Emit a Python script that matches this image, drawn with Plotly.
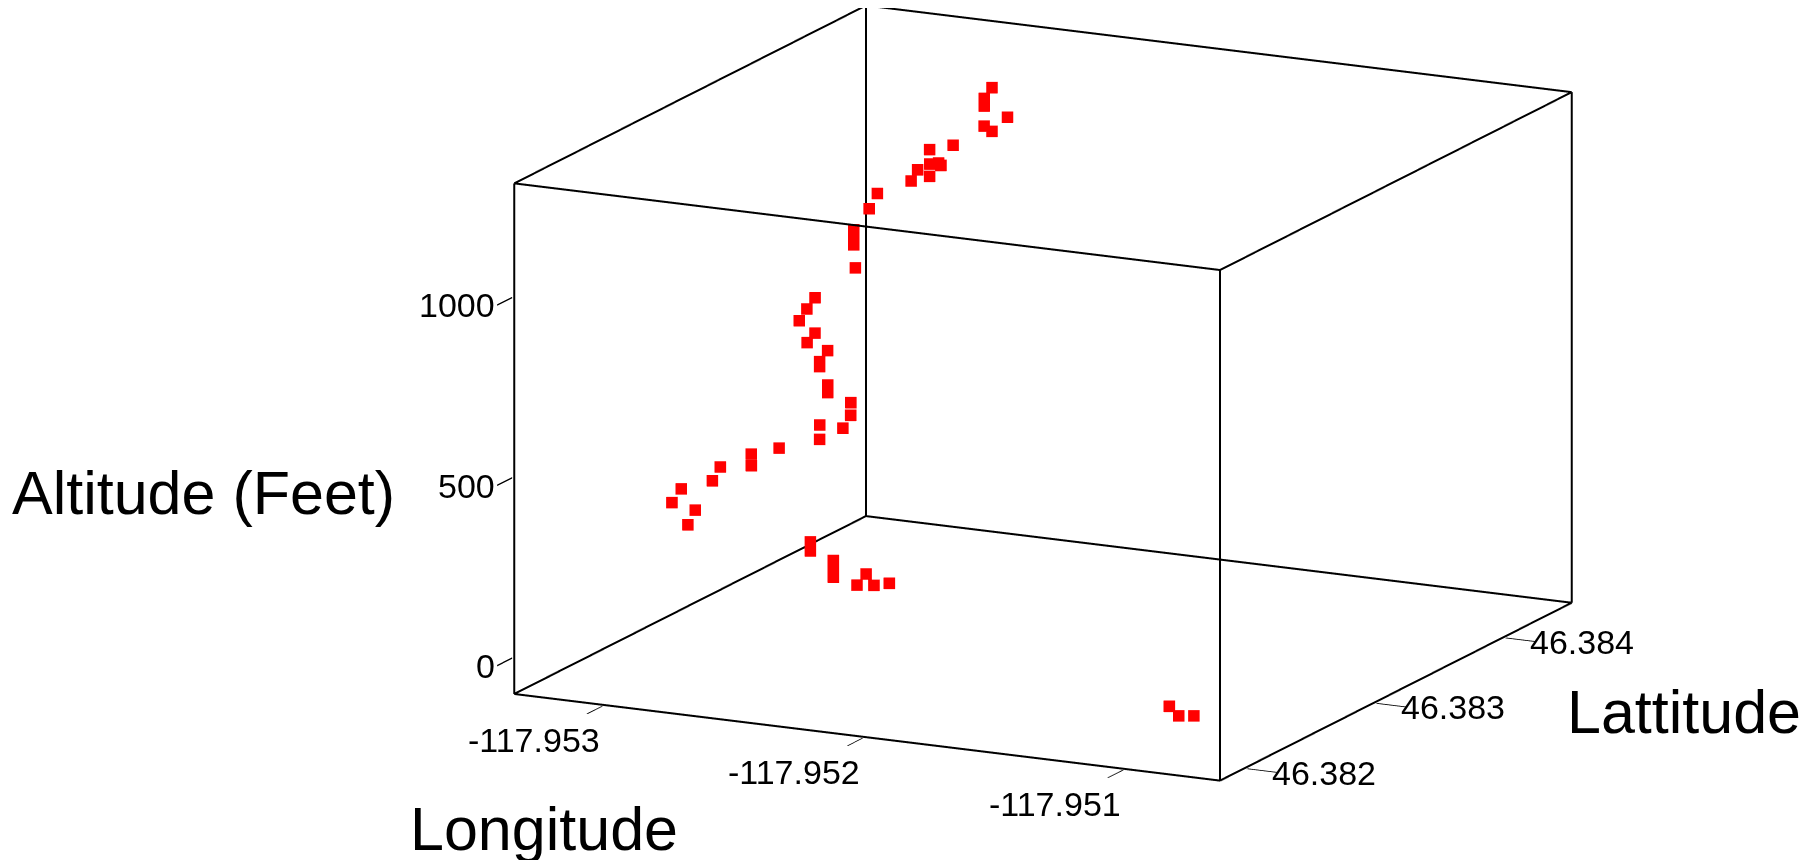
import plotly.graph_objects as go
import math

# ---- data ----
longitude = [
    -117.950987, -117.950924, -117.950866,
    -117.952541, -117.952541, -117.952453, -117.952453, -117.952453,
    -117.952327, -117.952362, -117.952297, -117.952238,
    -117.953079, -117.953071, -117.953167, -117.953145, -117.953032,
    -117.953015, -117.952896, -117.952903, -117.952803, -117.952654,
    -117.952578, -117.952667, -117.952562, -117.952575, -117.952677,
    -117.952677, -117.952735, -117.952735, -117.952718, -117.952797,
    -117.952780, -117.952854, -117.952838, -117.952820, -117.952706,
    -117.952739, -117.952739, -117.952739, -117.952707, -117.952689,
    -117.952586, -117.952529, -117.952575, -117.952499, -117.952542,
    -117.952508, -117.952556, -117.952479, -117.952384, -117.952414,
    -117.952392, -117.952481, -117.952508, -117.952519,
]
latitude = [
    46.382126, 46.382072, 46.382072,
    46.382480, 46.382480, 46.382480, 46.382480, 46.382480,
    46.382480, 46.382480, 46.382480, 46.382480,
    46.382616, 46.382657, 46.382670, 46.382698, 46.382711,
    46.382738, 46.382738, 46.382752, 46.382766, 46.382779,
    46.382806, 46.382806, 46.382834, 46.382861, 46.382888,
    46.382888, 46.382942, 46.382942, 46.382970, 46.382970,
    46.382997, 46.383024, 46.383051, 46.383078, 46.383160,
    46.383214, 46.383214, 46.383214, 46.383269, 46.383296,
    46.383350, 46.383378, 46.383378, 46.383405, 46.383405,
    46.383405, 46.383432, 46.383459, 46.383568, 46.383568,
    46.383704, 46.383704, 46.383758, 46.383840,
]
altitude = [
    16, 5, 10,
    270, 245, 226, 200, 180,
    200, 166, 171, 182,
    245, 279, 289, 324, 354,
    389, 403, 432, 455, 490,
    523, 524, 555, 584, 598,
    619, 655, 669, 696, 711,
    734, 757, 786, 814, 892,
    943, 966, 985, 1036, 1075,
    1109, 1122, 1136, 1150, 1150,
    1156, 1184, 1198, 1225, 1237,
    1239, 1262, 1271, 1285,
]

lon_range = [-117.95334, -117.95063]
lat_range = [46.38180, 46.38452]
alt_range = [-100, 1316]

lon_ticks = [-117.953, -117.952, -117.951]
lat_ticks = [46.382, 46.383, 46.384]
alt_ticks = [0, 500, 1000]
lon_ticktext = ["-117.953", "-117.952", "-117.951"]
lat_ticktext = ["46.382", "46.383", "46.384"]
alt_ticktext = ["0", "500", "1000"]

# WebGL stores positions in float32; degrees like -117.95 with a 0.003 range
# lose precision, so the axes run relative to a reference point (labels unchanged).
lon_ref = -117.952
lat_ref = 46.383

def rel(vals, ref):
    return [None if v is None else v - ref for v in vals]

# ---- box frame (12 edges of the axis box) ----
bx, by, bz = [], [], []
x0, x1 = lon_range
y0, y1 = lat_range
z0, z1 = alt_range
edges = [
    ((x0, y0, z0), (x1, y0, z0)), ((x0, y1, z0), (x1, y1, z0)),
    ((x0, y0, z1), (x1, y0, z1)), ((x0, y1, z1), (x1, y1, z1)),
    ((x0, y0, z0), (x0, y1, z0)), ((x1, y0, z0), (x1, y1, z0)),
    ((x0, y0, z1), (x0, y1, z1)), ((x1, y0, z1), (x1, y1, z1)),
    ((x0, y0, z0), (x0, y0, z1)), ((x1, y0, z0), (x1, y0, z1)),
    ((x0, y1, z0), (x0, y1, z1)), ((x1, y1, z0), (x1, y1, z1)),
]
for a, b in edges:
    bx += [a[0], b[0], None]
    by += [a[1], b[1], None]
    bz += [a[2], b[2], None]

def padded(rng, frac=0.002):
    d = (rng[1] - rng[0]) * frac
    return [rng[0] - d, rng[1] + d]

fig = go.Figure()
fig.add_trace(go.Scatter3d(
    x=rel(bx, lon_ref), y=rel(by, lat_ref), z=bz, mode="lines",
    line=dict(color="black", width=4),
    hoverinfo="skip", showlegend=False,
))
fig.add_trace(go.Scatter3d(
    x=rel(longitude, lon_ref), y=rel(latitude, lat_ref), z=altitude,
    mode="markers",
    marker=dict(symbol="square", size=6, color="#ff0000", line=dict(width=0)),
    customdata=list(zip(longitude, latitude)),
    hovertemplate="Longitude %{customdata[0]:.6f}<br>Lattitude %{customdata[1]:.6f}"
                  "<br>Altitude %{z} ft<extra></extra>",
    showlegend=False,
))

FONT = "Liberation Sans, Arial, sans-serif"
TICK_FONT = dict(family=FONT, size=34, color="black")
r = 3.0

def axis(rng, tv, ref=0.0):
    return dict(
        range=padded(rel(rng, ref)), autorange=False,
        tickvals=rel(tv, ref), showticklabels=False,
        showbackground=False, showgrid=False, zeroline=False,
        showline=False, showspikes=False,
        ticks="outside", ticklen=34, tickwidth=3, tickcolor="black",
        title=dict(text=""),
    )

# tick labels placed at the tick positions of each axis (horizontal text)
tick_labels = []
for t, txt in zip(alt_ticks, alt_ticktext):
    tick_labels.append(dict(
        x=x0 - lon_ref, y=y0 - lat_ref, z=t, text=txt, showarrow=False,
        xanchor="right", yanchor="middle", xshift=-17, yshift=-8, font=TICK_FONT))
for t, txt in zip(lon_ticks, lon_ticktext):
    tick_labels.append(dict(
        x=t - lon_ref, y=y0 - lat_ref, z=z0, text=txt, showarrow=False,
        xanchor="center", yanchor="middle", xshift=-69, yshift=-35, font=TICK_FONT))
for t, txt in zip(lat_ticks, lat_ticktext):
    tick_labels.append(dict(
        x=x1 - lon_ref, y=t - lat_ref, z=z0, text=txt, showarrow=False,
        xanchor="left", yanchor="middle", xshift=24, yshift=-5, font=TICK_FONT))

# camera: orthographic view
theta = math.radians(14.43)
phi = math.radians(-63.77)
c = dict(x=0.01151, y=-0.02336, z=-0.10121)
eye = dict(
    x=c["x"] + r * math.cos(theta) * math.cos(phi),
    y=c["y"] + r * math.cos(theta) * math.sin(phi),
    z=c["z"] + r * math.sin(theta),
)

fig.update_layout(
    width=1813, height=860,
    margin=dict(l=0, r=0, t=0, b=0),
    paper_bgcolor="white",
    scene=dict(
        domain=dict(x=[0.1445, 0.9971], y=[0, 1]),
        xaxis=axis(lon_range, lon_ticks, lon_ref),
        yaxis=axis(lat_range, lat_ticks, lat_ref),
        zaxis=axis(alt_range, alt_ticks),
        aspectmode="manual",
        aspectratio=dict(x=1.837, y=1.858, z=1.231),
        camera=dict(
            projection=dict(type="orthographic"),
            eye=eye, center=c, up=dict(x=0, y=0, z=1),
        ),
        bgcolor="white",
        annotations=tick_labels,
    ),
    annotations=[
        dict(text="Altitude (Feet)", x=0.0013, y=0.4355, xref="paper", yref="paper",
             xanchor="left", yanchor="middle", showarrow=False,
             font=dict(family=FONT, size=61, color="black")),
        dict(text="Longitude", x=0.2957, y=0.0455, xref="paper", yref="paper",
             xanchor="center", yanchor="middle", showarrow=False,
             font=dict(family=FONT, size=61, color="black")),
        dict(text="Lattitude", x=0.9245, y=0.1818, xref="paper", yref="paper",
             xanchor="center", yanchor="middle", showarrow=False,
             font=dict(family=FONT, size=61, color="black")),
    ],
)

fig.write_html("out.html")
